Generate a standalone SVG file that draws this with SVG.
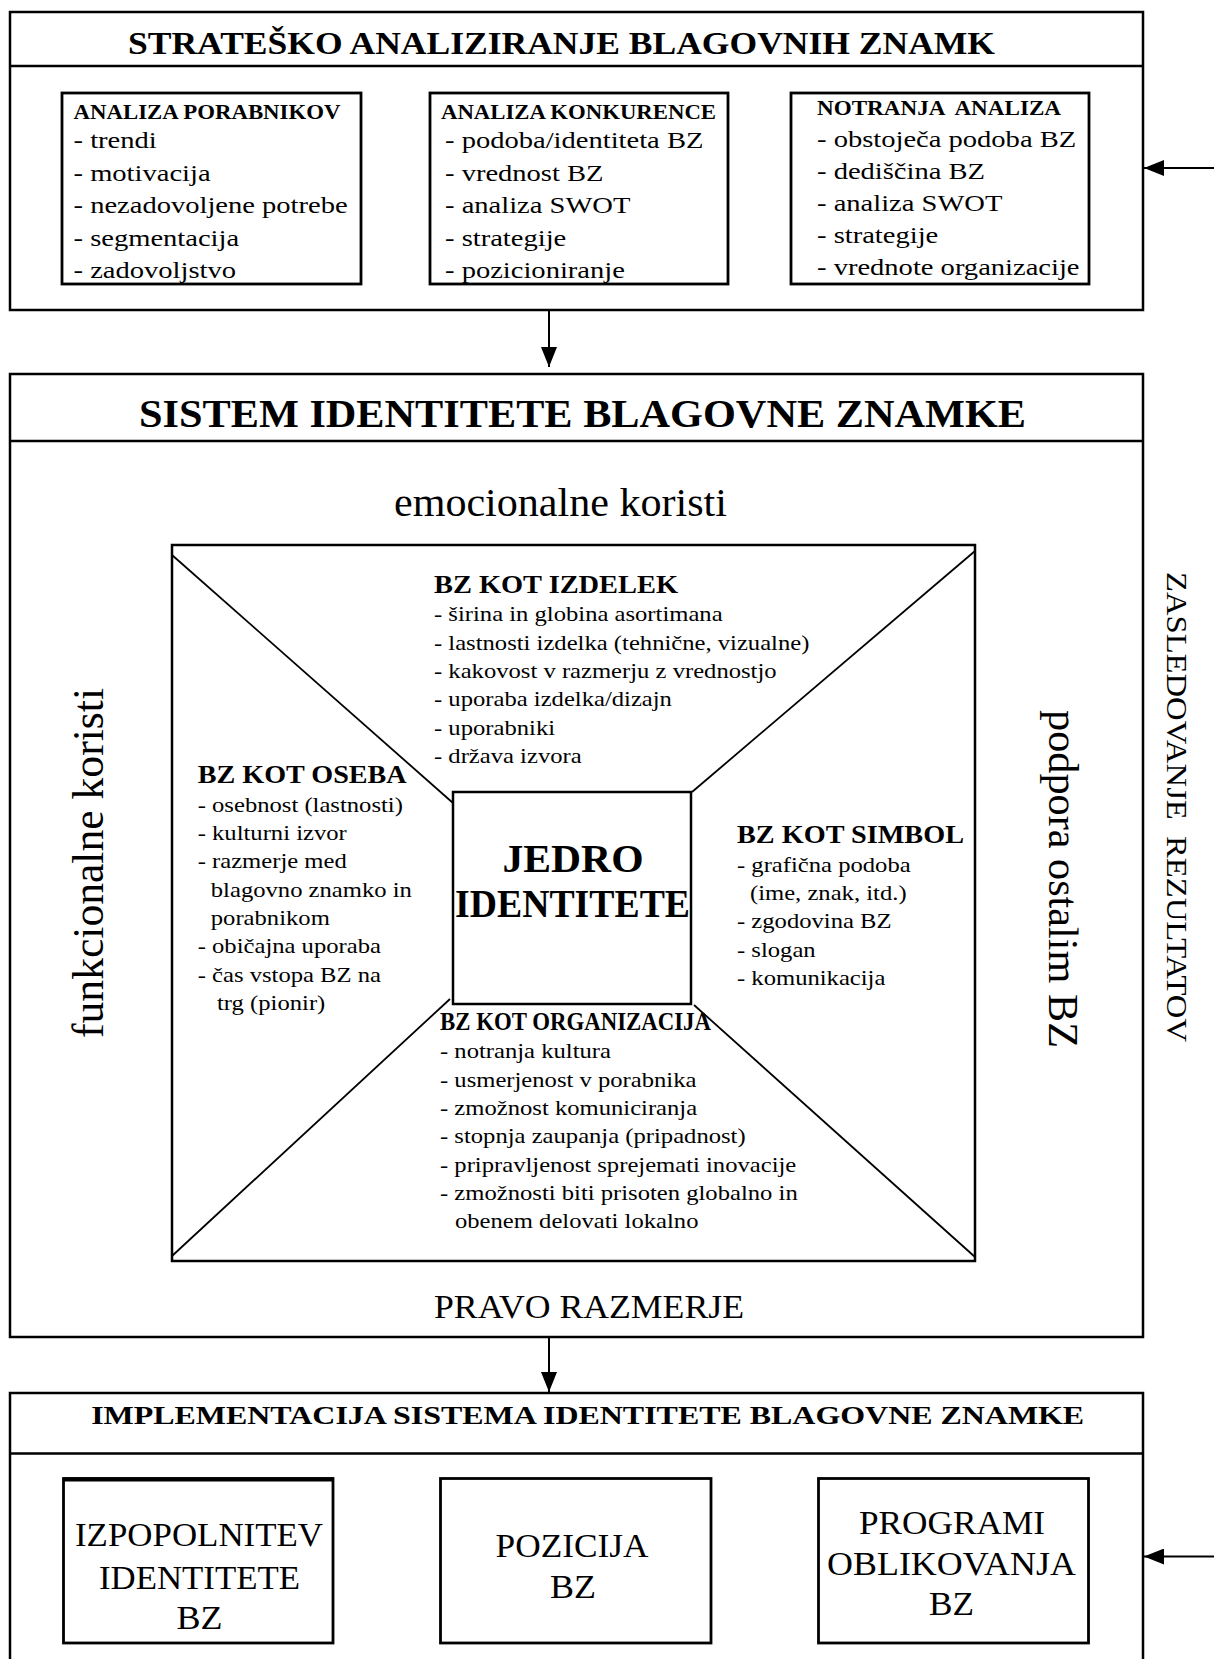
<svg xmlns="http://www.w3.org/2000/svg" width="1214" height="1659" viewBox="0 0 1214 1659">
<style>
text { font-family: "Liberation Serif", "Times New Roman", serif; fill: #000; }
.b { font-weight: bold; }
.box { fill: #fff; stroke: #000; stroke-width: 2.5; }
.sub { fill: #fff; stroke: #000; stroke-width: 2.8; }
.ln { stroke: #000; stroke-width: 2.5; fill: none; }
.dg { stroke: #000; stroke-width: 1.8; fill: none; }
.c { text-anchor: middle; }
.li1 { font-size: 24px; transform-box: fill-box; transform-origin: 0 0; transform: scaleX(1.19); }
.li2 { font-size: 22px; transform-box: fill-box; transform-origin: 0 0; transform: scaleX(1.12); }
.h1 { font-size: 21px; font-weight: bold; }
.h2 { font-size: 25px; font-weight: bold; }
.big { font-size: 34px; }
.arr { stroke: #000; stroke-width: 2; fill: none; marker-end: url(#ah); }
</style>
<defs>
<marker id="ah" markerUnits="userSpaceOnUse" markerWidth="20" markerHeight="16" refX="20" refY="8" orient="auto">
<path d="M0,0 L20,8 L0,16 z" fill="#000"/>
</marker>
</defs>
<rect width="1214" height="1659" fill="#fff"/>

<g id="strateško-analiziranje">
<rect class="box" x="10" y="12" width="1133" height="298"/>
<line class="ln" x1="10" y1="66" x2="1143" y2="66"/>
<text class="b c" x="561.5" y="54" font-size="31" textLength="867" lengthAdjust="spacingAndGlyphs">STRATEŠKO ANALIZIRANJE BLAGOVNIH ZNAMK</text>
</g>

<g id="analiza-porabnikov">
<rect class="sub" x="62" y="93" width="299" height="191"/>
<text class="h1" x="73.5" y="119" textLength="267" lengthAdjust="spacingAndGlyphs">ANALIZA PORABNIKOV</text>
<text class="li1" x="73.5" y="148.5">- trendi</text>
<text class="li1" x="73.5" y="181">- motivacija</text>
<text class="li1" x="73.5" y="213.5">- nezadovoljene potrebe</text>
<text class="li1" x="73.5" y="246">- segmentacija</text>
<text class="li1" x="73.5" y="278.5">- zadovoljstvo</text>
</g>

<g id="analiza-konkurence">
<rect class="sub" x="430" y="93" width="298" height="191"/>
<text class="h1" x="441" y="118.5" textLength="275" lengthAdjust="spacingAndGlyphs">ANALIZA KONKURENCE</text>
<text class="li1" x="445" y="148.5">- podoba/identiteta BZ</text>
<text class="li1" x="445" y="181">- vrednost BZ</text>
<text class="li1" x="445" y="213.5">- analiza SWOT</text>
<text class="li1" x="445" y="246">- strategije</text>
<text class="li1" x="445" y="278.5">- pozicioniranje</text>
</g>

<g id="notranja-analiza">
<rect class="sub" x="791" y="93" width="298" height="191"/>
<text class="h1" x="817" y="115" textLength="244" lengthAdjust="spacingAndGlyphs" xml:space="preserve">NOTRANJA  ANALIZA</text>
<text class="li1" x="817" y="146.7">- obstoječa podoba BZ</text>
<text class="li1" x="817" y="178.7">- dediščina BZ</text>
<text class="li1" x="817" y="210.7">- analiza SWOT</text>
<text class="li1" x="817" y="242.7">- strategije</text>
<text class="li1" x="817" y="274.7">- vrednote organizacije</text>
</g>

<g id="sistem-identitete">
<rect class="box" x="10" y="374" width="1133" height="963"/>
<line class="ln" x1="10" y1="441" x2="1143" y2="441"/>
<text class="b c" x="582.5" y="427" font-size="41" textLength="887" lengthAdjust="spacingAndGlyphs">SISTEM IDENTITETE BLAGOVNE ZNAMKE</text>
<text class="c" x="560.5" y="516" font-size="40" textLength="333" lengthAdjust="spacingAndGlyphs">emocionalne koristi</text>
<text class="c" transform="translate(103 863) rotate(-90)" font-size="44" textLength="350" lengthAdjust="spacingAndGlyphs">funkcionalne koristi</text>
<text class="c" transform="translate(1049 879) rotate(90)" font-size="42" textLength="338" lengthAdjust="spacingAndGlyphs">podpora ostalim BZ</text>
<text class="c" x="589" y="1317.5" font-size="34" textLength="310" lengthAdjust="spacingAndGlyphs">PRAVO RAZMERJE</text>
</g>

<g id="prizma-identitete">
<rect class="box" x="172" y="545" width="803" height="716"/>
<line class="dg" x1="172" y1="555" x2="453" y2="803"/>
<line class="dg" x1="975" y1="551" x2="692" y2="792"/>
<line class="dg" x1="450" y1="999" x2="172" y2="1256"/>
<line class="dg" x1="694" y1="1005" x2="975" y2="1257"/>
</g>

<g id="bz-kot-izdelek">
<text class="h2" x="434" y="593" textLength="244" lengthAdjust="spacingAndGlyphs">BZ KOT IZDELEK</text>
<text class="li2" x="434" y="621.5">- širina in globina asortimana</text>
<text class="li2" x="434" y="649.8">- lastnosti izdelka (tehnične, vizualne)</text>
<text class="li2" x="434" y="678.1">- kakovost v razmerju z vrednostjo</text>
<text class="li2" x="434" y="706.4">- uporaba izdelka/dizajn</text>
<text class="li2" x="434" y="734.7">- uporabniki</text>
<text class="li2" x="434" y="763">- država izvora</text>
</g>

<g id="bz-kot-oseba">
<text class="h2" x="197.7" y="783.3" textLength="209" lengthAdjust="spacingAndGlyphs">BZ KOT OSEBA</text>
<text class="li2" x="197.7" y="811.7">- osebnost (lastnosti)</text>
<text class="li2" x="197.7" y="840">- kulturni izvor</text>
<text class="li2" x="197.7" y="868.3">- razmerje med</text>
<text class="li2" x="210.8" y="896.7">blagovno znamko in</text>
<text class="li2" x="210.8" y="925">porabnikom</text>
<text class="li2" x="197.7" y="953.3">- običajna uporaba</text>
<text class="li2" x="197.7" y="981.7">- čas vstopa BZ na</text>
<text class="li2" x="217" y="1010">trg (pionir)</text>
</g>

<g id="jedro-identitete">
<rect class="box" x="453" y="792" width="238" height="212"/>
<text class="b c" x="573" y="871.5" font-size="40" textLength="141" lengthAdjust="spacingAndGlyphs">JEDRO</text>
<text class="b c" x="572.5" y="916.5" font-size="40" textLength="235" lengthAdjust="spacingAndGlyphs">IDENTITETE</text>
</g>

<g id="bz-kot-simbol">
<text class="h2" x="737" y="843.3" textLength="227" lengthAdjust="spacingAndGlyphs">BZ KOT SIMBOL</text>
<text class="li2" x="737" y="871.7">- grafična podoba</text>
<text class="li2" x="750" y="900">(ime, znak, itd.)</text>
<text class="li2" x="737" y="928.3">- zgodovina BZ</text>
<text class="li2" x="737" y="956.7">- slogan</text>
<text class="li2" x="737" y="985">- komunikacija</text>
</g>

<g id="bz-kot-organizacija">
<text class="h2" x="440" y="1030" textLength="271" lengthAdjust="spacingAndGlyphs">BZ KOT ORGANIZACIJA</text>
<text class="li2" x="440" y="1058.3">- notranja kultura</text>
<text class="li2" x="440" y="1086.7">- usmerjenost v porabnika</text>
<text class="li2" x="440" y="1115">- zmožnost komuniciranja</text>
<text class="li2" x="440" y="1143.3">- stopnja zaupanja (pripadnost)</text>
<text class="li2" x="440" y="1171.7">- pripravljenost sprejemati inovacije</text>
<text class="li2" x="440" y="1200">- zmožnosti biti prisoten globalno in</text>
<text class="li2" x="455" y="1228.3">obenem delovati lokalno</text>
</g>

<g id="zasledovanje-rezultatov">
<text class="c" transform="translate(1167 807) rotate(90)" font-size="30" textLength="470" lengthAdjust="spacingAndGlyphs" xml:space="preserve">ZASLEDOVANJE  REZULTATOV</text>
</g>

<g id="implementacija">
<rect class="box" x="10" y="1393" width="1133" height="290"/>
<line class="ln" x1="10" y1="1453.5" x2="1143" y2="1453.5"/>
<text class="b c" x="587.7" y="1424" font-size="26" textLength="993" lengthAdjust="spacingAndGlyphs">IMPLEMENTACIJA SISTEMA IDENTITETE BLAGOVNE ZNAMKE</text>
</g>

<g id="izpopolnitev-identitete">
<rect class="sub" x="63.5" y="1478.5" width="269.5" height="164.5"/>
<line x1="63.5" y1="1479.5" x2="333" y2="1479.5" stroke="#000" stroke-width="4"/>
<text class="big c" x="199" y="1546.3" textLength="248" lengthAdjust="spacingAndGlyphs">IZPOPOLNITEV</text>
<text class="big c" x="199.5" y="1589.2" textLength="201" lengthAdjust="spacingAndGlyphs">IDENTITETE</text>
<text class="big c" x="199.5" y="1628.8" textLength="46" lengthAdjust="spacingAndGlyphs">BZ</text>
</g>

<g id="pozicija-bz">
<rect class="sub" x="440.5" y="1478.5" width="270.5" height="164.5"/>
<text class="big c" x="572" y="1557.3" textLength="153" lengthAdjust="spacingAndGlyphs">POZICIJA</text>
<text class="big c" x="573" y="1597.8" textLength="46" lengthAdjust="spacingAndGlyphs">BZ</text>
</g>

<g id="programi-oblikovanja">
<rect class="sub" x="818.5" y="1478.5" width="270" height="164.5"/>
<text class="big c" x="952" y="1533.5" textLength="186" lengthAdjust="spacingAndGlyphs">PROGRAMI</text>
<text class="big c" x="951.5" y="1574.5" textLength="249" lengthAdjust="spacingAndGlyphs">OBLIKOVANJA</text>
<text class="big c" x="951.5" y="1615" textLength="45" lengthAdjust="spacingAndGlyphs">BZ</text>
</g>

<g id="connectors">
<line class="arr" x1="549" y1="310" x2="549" y2="367"/>
<line class="arr" x1="549" y1="1337" x2="549" y2="1392"/>
<line class="arr" x1="1214" y1="168" x2="1144" y2="168"/>
<line class="arr" x1="1214" y1="1556.5" x2="1144" y2="1556.5"/>
</g>
</svg>
